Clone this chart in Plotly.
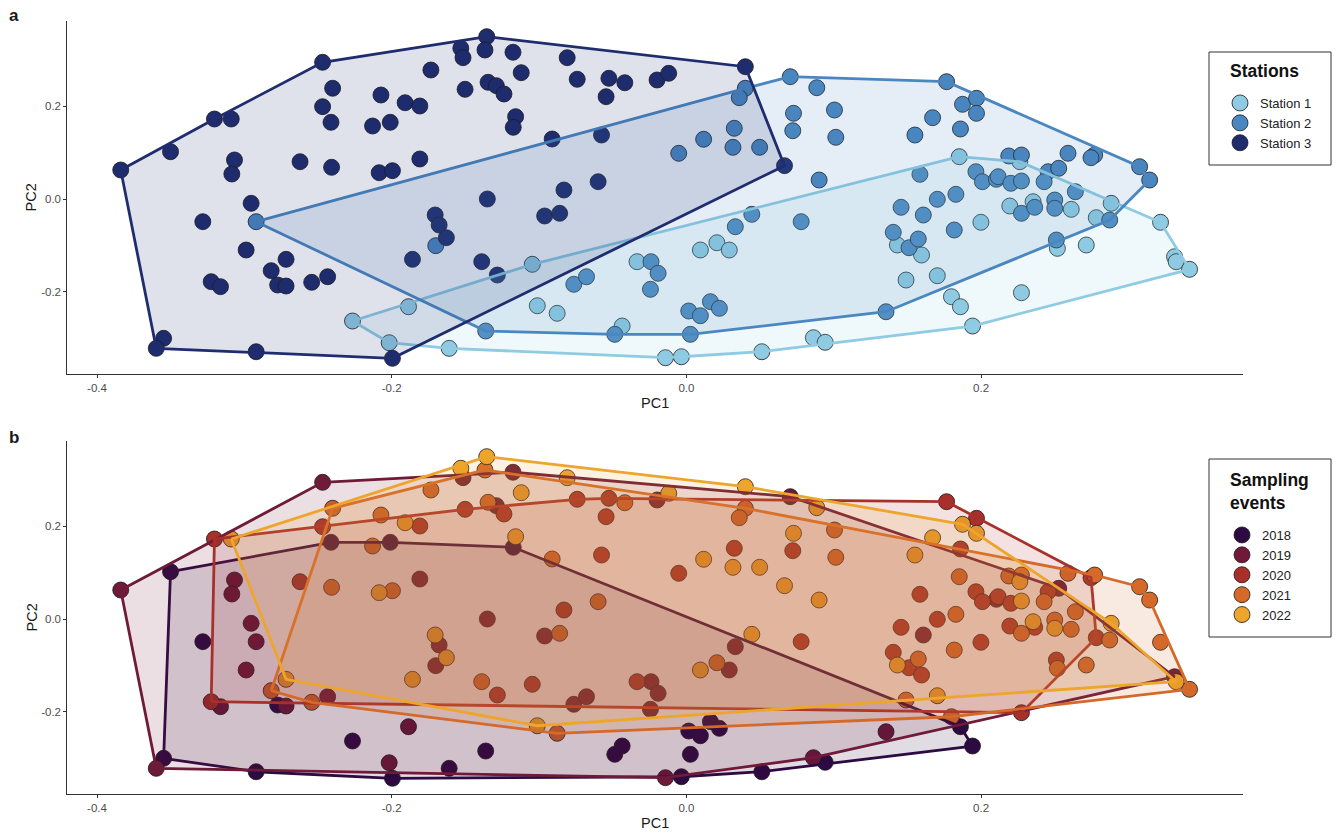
import plotly.graph_objects as go

# ---------------- data ----------------
pc1 = [
    -0.2469, -0.2401, -0.2073, -0.2469, -0.2412, -0.2130, -0.2010, -0.3203, -0.3089, -0.3501,
    -0.3839, -0.3067, -0.3085, -0.2622, -0.2408, -0.2085, -0.1995, -0.2954, -0.2920, -0.3282,
    -0.2988, -0.2717, -0.2818, -0.3225, -0.3162, -0.2774, -0.2717, -0.2543, -0.2435, -0.2266,
    -0.2017, -0.3548, -0.3598, -0.2920, -0.1995,
    -0.1355, -0.1531, -0.1516, -0.1367, -0.1177, -0.0809, -0.1734, -0.1121, -0.0741, -0.0526,
    -0.0418, -0.0199, -0.0120, -0.0545, -0.1502, -0.1346, -0.1290, -0.1238, -0.1159, -0.1175,
    -0.1909, -0.1809, -0.1809, -0.0911, -0.0576, -0.0052, 0.0117, -0.0599, -0.0831, -0.1351,
    -0.0962, -0.0860, -0.1705, -0.1678, -0.1629, -0.1701, -0.1859, -0.1389, -0.1283, -0.1046,
    -0.1886, -0.1362, -0.1012, -0.0877, -0.0764, -0.0678, -0.0335, -0.0240, -0.0192, -0.0244,
    0.0095, -0.0436, -0.0486, 0.0016, 0.0095, 0.0027, -0.1610, -0.0142, -0.0034,
    0.0400, 0.0400, 0.0359, 0.0705, 0.0885, 0.1766, 0.1874, 0.1969, 0.1969, 0.0727,
    0.1005, 0.0722, 0.1014, 0.1671, 0.1551, 0.1860, 0.0325, 0.0316, 0.0497, 0.0666,
    0.0901, 0.1852, 0.1585, 0.1965, 0.2009, 0.2104, 0.1703, 0.1829, 0.1457, 0.1608,
    0.1999, 0.1818, 0.0779, 0.0444, 0.0332, 0.0207, 0.0291, 0.1404, 0.1432, 0.1511,
    0.1574, 0.1596, 0.1491, 0.1703, 0.1799, 0.1860, 0.1942, 0.1355, 0.0163, 0.0224,
    0.0862, 0.0942, 0.0512,
    0.2188, 0.2274, 0.2263, 0.2590, 0.2771, 0.2746, 0.3076, 0.3144, 0.2116, 0.2202,
    0.2274, 0.2455, 0.2527, 0.2428, 0.2640, 0.2195, 0.2353, 0.2274, 0.2364, 0.2500,
    0.2500, 0.2612, 0.2782, 0.2883, 0.2873, 0.3218, 0.2511, 0.2518, 0.2714, 0.3313,
    0.3324, 0.3415, 0.2274,
]
pc2 = [
    0.2946, 0.2386, 0.2241, 0.1989, 0.1653, 0.1573, 0.1653, 0.1724, 0.1724, 0.1019,
    0.0625, 0.0841, 0.0539, 0.0804, 0.0683, 0.0567, 0.0610, -0.0093, -0.0489, -0.0489,
    -0.1099, -0.1300, -0.1545, -0.1782, -0.1890, -0.1853, -0.1875, -0.1795, -0.1675, -0.2629,
    -0.3097, -0.3002, -0.3218, -0.3291, -0.3433,
    0.3498, 0.3248, 0.3045, 0.3211, 0.3162, 0.3045, 0.2780, 0.2722, 0.2580, 0.2601,
    0.2506, 0.2565, 0.2709, 0.2205, 0.2364, 0.2515, 0.2442, 0.2263, 0.1774, 0.1545,
    0.2075, 0.2004, 0.0862, 0.1293, 0.1379, 0.0985, 0.1287, 0.0373, 0.0194, 0.0000,
    -0.0366, -0.0308, -0.0345, -0.0560, -0.0834, -0.1006, -0.1300, -0.1351, -0.1638, -0.1407,
    -0.2321, -0.2845, -0.2300, -0.2463, -0.1838, -0.1675, -0.1351, -0.1351, -0.1601, -0.1946,
    -0.1099, -0.2737, -0.2916, -0.2414, -0.2515, -0.2916, -0.3218, -0.3420, -0.3399,
    0.2851, 0.2386, 0.2183, 0.2636, 0.2399, 0.2528, 0.2041, 0.2170, 0.1847, 0.1847,
    0.1918, 0.1472, 0.1330, 0.1752, 0.1379, 0.1509, 0.1524, 0.1114, 0.1114, 0.0718,
    0.0409, 0.0912, 0.0532, 0.0588, 0.0373, 0.0425, -0.0006, 0.0101, -0.0179, -0.0345,
    -0.0502, -0.0668, -0.0489, -0.0330, -0.0597, -0.0942, -0.1099, -0.0718, -0.0991, -0.1050,
    -0.0862, -0.1207, -0.1746, -0.1653, -0.2106, -0.2321, -0.2737, -0.2429, -0.2213, -0.2356,
    -0.2989, -0.3088, -0.3291,
    0.0927, 0.0948, 0.0804, 0.0985, 0.0948, 0.0890, 0.0696, 0.0409, 0.0481, 0.0338,
    0.0388, 0.0588, 0.0662, 0.0373, 0.0157, -0.0151, -0.0058, -0.0308, -0.0179, -0.0022,
    -0.0200, -0.0222, -0.0403, -0.0093, -0.0453, -0.0502, -0.0884, -0.1063, -0.0991, -0.1244,
    -0.1351, -0.1515, -0.2019,
]
station = [
    3, 3, 3, 3, 3, 3, 3, 3, 3, 3,
    3, 3, 3, 3, 3, 3, 3, 3, 2, 3,
    3, 3, 3, 3, 3, 3, 3, 3, 3, 1,
    1, 3, 3, 3, 3,
    3, 3, 3, 3, 3, 3, 3, 3, 3, 3,
    3, 3, 3, 3, 3, 3, 3, 3, 3, 3,
    3, 3, 3, 3, 3, 2, 2, 3, 3, 3,
    3, 3, 3, 3, 3, 2, 3, 3, 3, 1,
    1, 2, 1, 1, 2, 2, 1, 2, 2, 2,
    1, 1, 2, 2, 2, 2, 1, 1, 1,
    3, 2, 2, 2, 2, 2, 2, 2, 2, 2,
    2, 2, 2, 2, 2, 2, 2, 2, 2, 3,
    2, 1, 2, 2, 2, 2, 2, 2, 2, 2,
    1, 2, 2, 2, 2, 1, 1, 2, 1, 2,
    2, 1, 1, 1, 1, 1, 1, 2, 2, 2,
    1, 1, 1,
    2, 2, 1, 2, 2, 2, 2, 2, 2, 2,
    2, 2, 2, 2, 2, 1, 1, 2, 2, 2,
    2, 1, 1, 1, 2, 1, 2, 1, 1, 1,
    1, 1, 1,
]
year = [
    2019, 2021, 2021, 2020, 2018, 2021, 2018, 2020, 2022, 2018,
    2019, 2019, 2019, 2020, 2021, 2022, 2021, 2019, 2019, 2018,
    2019, 2022, 2021, 2020, 2019, 2018, 2019, 2021, 2019, 2018,
    2019, 2018, 2019, 2018, 2018,
    2022, 2022, 2019, 2021, 2019, 2022, 2021, 2022, 2020, 2020,
    2021, 2019, 2022, 2020, 2020, 2021, 2019, 2020, 2022, 2018,
    2022, 2020, 2019, 2021, 2020, 2020, 2022, 2021, 2020, 2019,
    2019, 2021, 2022, 2019, 2022, 2019, 2022, 2021, 2020, 2020,
    2019, 2018, 2022, 2021, 2019, 2019, 2020, 2019, 2019, 2019,
    2022, 2018, 2018, 2018, 2018, 2018, 2018, 2019, 2018,
    2022, 2021, 2021, 2019, 2022, 2020, 2022, 2020, 2022, 2022,
    2021, 2020, 2021, 2022, 2022, 2020, 2020, 2022, 2022, 2022,
    2022, 2021, 2020, 2020, 2020, 2019, 2020, 2021, 2020, 2019,
    2020, 2021, 2020, 2022, 2019, 2021, 2019, 2020, 2022, 2020,
    2021, 2020, 2021, 2022, 2021, 2018, 2018, 2019, 2018, 2018,
    2019, 2018, 2018,
    2021, 2021, 2022, 2021, 2021, 2020, 2021, 2021, 2020, 2020,
    2022, 2020, 2019, 2021, 2021, 2020, 2022, 2021, 2020, 2021,
    2022, 2021, 2020, 2022, 2021, 2021, 2020, 2021, 2021, 2019,
    2022, 2021, 2020,
]

station_levels = [1, 2, 3]
station_labels = ["Station 1", "Station 2", "Station 3"]
station_colors = ["#8fcbe2", "#4a86bf", "#1f2d6e"]

year_levels = [2018, 2019, 2020, 2021, 2022]
year_labels = ["2018", "2019", "2020", "2021", "2022"]
year_colors = ["#2e0a42", "#6e1a38", "#a8302a", "#d4692a", "#eea52c"]

x_ticks = [-0.4, -0.2, 0.0, 0.2]
x_ticktext = ["-0.4", "-0.2", "0.0", "0.2"]
y_ticks = [-0.2, 0.0, 0.2]
y_ticktext = ["-0.2", "0.0", "0.2"]


# ---------------- helpers ----------------
def convex_hull(points):
    pts = sorted(set(points))
    if len(pts) <= 2:
        return pts

    def cross(o, a, b):
        return (a[0] - o[0]) * (b[1] - o[1]) - (a[1] - o[1]) * (b[0] - o[0])

    lower = []
    for p in pts:
        while len(lower) >= 2 and cross(lower[-2], lower[-1], p) <= 0:
            lower.pop()
        lower.append(p)
    upper = []
    for p in reversed(pts):
        while len(upper) >= 2 and cross(upper[-2], upper[-1], p) <= 0:
            upper.pop()
        upper.append(p)
    return lower[:-1] + upper[:-1]


def rgba(hexcol, a):
    h = hexcol.lstrip("#")
    r, g, b = int(h[0:2], 16), int(h[2:4], 16), int(h[4:6], 16)
    return f"rgba({r},{g},{b},{a})"


FONT = "Liberation Sans, Arial, Helvetica, sans-serif"
W, H = 1336, 833

fig = go.Figure()


def add_panel(groups, levels, labels, colors, xa, ya, legend_name):
    # points first (the hull polygons are drawn over them)
    for lev, lab, col in zip(levels, labels, colors):
        xs = [x for x, g in zip(pc1, groups) if g == lev]
        ys = [y for y, g in zip(pc2, groups) if g == lev]
        fig.add_trace(go.Scatter(
            x=xs, y=ys, mode="markers", name=lab,
            marker=dict(size=16, color=col, line=dict(color="#1a1a1a", width=0.8)),
            xaxis=xa, yaxis=ya, legend=legend_name, showlegend=True,
        ))
    for lev, col in zip(levels, colors):
        pts = [(x, y) for x, y, g in zip(pc1, pc2, groups) if g == lev]
        hull = convex_hull(pts)
        hx = [p[0] for p in hull] + [hull[0][0]]
        hy = [p[1] for p in hull] + [hull[0][1]]
        fig.add_trace(go.Scatter(
            x=hx, y=hy, mode="lines", fill="toself",
            fillcolor=rgba(col, 0.14), line=dict(color=col, width=2.8),
            xaxis=xa, yaxis=ya, showlegend=False, hoverinfo="skip",
        ))


add_panel(station, station_levels, station_labels, station_colors, "x", "y", "legend")
add_panel(year, year_levels, year_labels, year_colors, "x2", "y2", "legend2")

# ggplot-like 5% expansion
xmin, xmax = min(pc1), max(pc1)
ymin, ymax = min(pc2), max(pc2)
xr = [xmin - 0.05 * (xmax - xmin), xmax + 0.05 * (xmax - xmin)]
yr = [ymin - 0.05 * (ymax - ymin), ymax + 0.05 * (ymax - ymin)]

xdom = [67.3 / W, 1243 / W]
ydom_a = [1 - 374.4 / H, 1 - 20.6 / H]
ydom_b = [1 - 794.4 / H, 1 - 440.6 / H]

axis_common = dict(
    showgrid=False, zeroline=False, showline=True, linecolor="#333333", linewidth=1,
    ticks="outside", ticklen=3, tickcolor="#333333", tickwidth=1,
    tickfont=dict(family=FONT, size=11.5, color="#4d4d4d"),
)

legend_common = dict(
    xanchor="left", yanchor="top",
    bgcolor="rgba(0,0,0,0)", borderwidth=0,
    font=dict(family=FONT, size=13, color="#222"),
    tracegroupgap=0, itemsizing="trace",
)

fig.update_layout(
    width=W, height=H,
    margin=dict(l=0, r=0, t=0, b=0),
    paper_bgcolor="white", plot_bgcolor="white",
    font=dict(family=FONT, color="#1a1a1a"),
    xaxis=dict(domain=xdom, range=xr, tickvals=x_ticks, ticktext=x_ticktext, anchor="y", **axis_common),
    yaxis=dict(domain=ydom_a, range=yr, tickvals=y_ticks, ticktext=y_ticktext, anchor="x", **axis_common),
    xaxis2=dict(domain=xdom, range=xr, tickvals=x_ticks, ticktext=x_ticktext, anchor="y2", **axis_common),
    yaxis2=dict(domain=ydom_b, range=yr, tickvals=y_ticks, ticktext=y_ticktext, anchor="x2", **axis_common),
    legend=dict(x=1220 / W, y=1 - 88 / H, **legend_common),
    legend2=dict(x=1222 / W, y=1 - 520 / H, **legend_common),
    shapes=[
        dict(type="rect", xref="paper", yref="paper", layer="above",
             x0=1209 / W, x1=1331 / W, y0=1 - 165 / H, y1=1 - 52 / H,
             line=dict(color="#333333", width=1), fillcolor="white"),
        dict(type="rect", xref="paper", yref="paper", layer="above",
             x0=1209 / W, x1=1331 / W, y0=1 - 637 / H, y1=1 - 459 / H,
             line=dict(color="#333333", width=1), fillcolor="white"),
    ],
)

xc = (xdom[0] + xdom[1]) / 2
annotations = [
    dict(text="<b>a</b>", x=14 / W, y=1 - 16 / H, font=dict(size=17)),
    dict(text="<b>b</b>", x=14 / W, y=1 - 437 / H, font=dict(size=17)),
    dict(text="PC1", x=xc, y=1 - 403 / H, font=dict(size=14.5)),
    dict(text="PC1", x=xc, y=1 - 823 / H, font=dict(size=14.5)),
    dict(text="PC2", x=31 / W, y=(ydom_a[0] + ydom_a[1]) / 2, textangle=-90, font=dict(size=14.5)),
    dict(text="PC2", x=31 / W, y=(ydom_b[0] + ydom_b[1]) / 2, textangle=-90, font=dict(size=14.5)),
]
for a in annotations:
    a.update(xref="paper", yref="paper", showarrow=False, xanchor="center", yanchor="middle")
    a["font"] = dict(family=FONT, color="#1a1a1a", **a["font"])

# legend titles (drawn inside the legend boxes)
annotations += [
    dict(text="<b>Stations</b>", x=1228 / W, y=1 - 71 / H, xref="paper", yref="paper",
         showarrow=False, xanchor="left", yanchor="middle", align="left",
         font=dict(family=FONT, size=17.5, color="#111")),
    dict(text="<b>Sampling<br>events</b>", x=1228 / W, y=1 - 492 / H, xref="paper", yref="paper",
         showarrow=False, xanchor="left", yanchor="middle", align="left",
         font=dict(family=FONT, size=17.5, color="#111")),
]
fig.update_layout(annotations=annotations)

# remove the default page margin so the figure starts at the window's top-left corner
fig.write_html(
    "out.html",
    config={"displayModeBar": False},
    post_script="document.body.style.margin='0px';document.body.style.overflow='hidden';",
)
